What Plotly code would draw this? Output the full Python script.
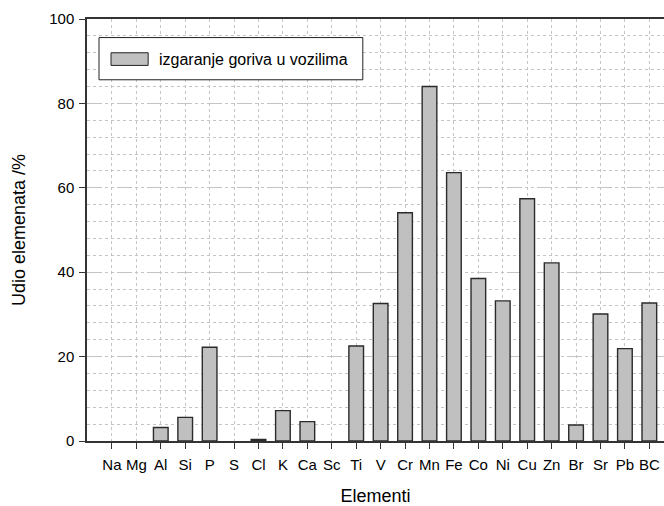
import plotly.graph_objects as go

elements = ["Na", "Mg", "Al", "Si", "P", "S", "Cl", "K", "Ca", "Sc", "Ti", "V",
            "Cr", "Mn", "Fe", "Co", "Ni", "Cu", "Zn", "Br", "Sr", "Pb", "BC"]
# None = no contribution for that element (no bar drawn)
udio = [None, None, 3.2, 5.6, 22.2, None, 0.35, 7.2, 4.6, None, 22.5, 32.6,
        54.1, 84.0, 63.6, 38.5, 33.2, 57.4, 42.2, 3.8, 30.1, 21.9, 32.7]
series_name = "izgaranje goriva u vozilima"
y_ticks = [0, 20, 40, 60, 80, 100]

FONT = "Arial, Liberation Sans, sans-serif"
BAR_FILL = "#c0c0c0"
BAR_LINE = "#2b2b2b"
AXIS = "#333333"
GRID = "#c4c4c4"

fig = go.Figure()
fig.add_trace(go.Bar(
    x=list(range(len(elements))), y=udio, width=0.6,
    marker=dict(color=BAR_FILL, line=dict(color=BAR_LINE, width=1.4)),
    name=series_name, showlegend=False,
))

# legend box drawn by hand so the swatch is a wide rectangle
fig.add_shape(type="rect", xref="paper", yref="paper",
              x0=0.0208, x1=0.478, y0=0.856, y1=0.956,
              line=dict(color="#222222", width=1), fillcolor="white", layer="above")
fig.add_shape(type="rect", xref="paper", yref="paper",
              x0=0.0416, x1=0.106, y0=0.89, y1=0.92,
              line=dict(color="#222222", width=1), fillcolor=BAR_FILL, layer="above")
fig.add_annotation(text=series_name, xref="paper", yref="paper",
                   x=0.122, y=0.905, xanchor="left", yanchor="middle",
                   showarrow=False, font=dict(family=FONT, size=16, color="#000000"))

fig.update_layout(
    width=664, height=506,
    margin=dict(l=87, r=0, t=19, b=65),
    paper_bgcolor="white", plot_bgcolor="white",
    font=dict(family=FONT, size=15, color="#000000"),
    bargap=0.4,
)
fig.update_xaxes(
    range=[-1.02, 22.6],
    tickmode="array", tickvals=list(range(len(elements))), ticktext=elements,
    ticks="outside", ticklen=6, tickcolor=AXIS, tickwidth=1,
    ticklabelstandoff=3,
    showline=True, linecolor=AXIS, linewidth=1.5, mirror=True,
    showgrid=True, gridcolor=GRID, griddash="dot", gridwidth=1,
    zeroline=False,
    title=dict(text="Elementi", font=dict(family=FONT, size=18), standoff=19),
    tickfont=dict(family=FONT, size=15),
)
fig.update_yaxes(
    range=[0, 100],
    tickmode="array", tickvals=y_ticks,
    ticks="outside", ticklen=6, tickcolor=AXIS, tickwidth=1,
    ticklabelstandoff=2,
    showline=True, linecolor=AXIS, linewidth=1.5, mirror=False,
    showgrid=True, gridcolor=GRID, griddash="longdash", gridwidth=1,
    minor=dict(dtick=4, showgrid=True, gridcolor=GRID, griddash="dot", gridwidth=1),
    zeroline=False,
    title=dict(text="Udio elemenata /%", font=dict(family=FONT, size=18), standoff=19),
    tickfont=dict(family=FONT, size=15),
)

fig.write_html("out.html")
